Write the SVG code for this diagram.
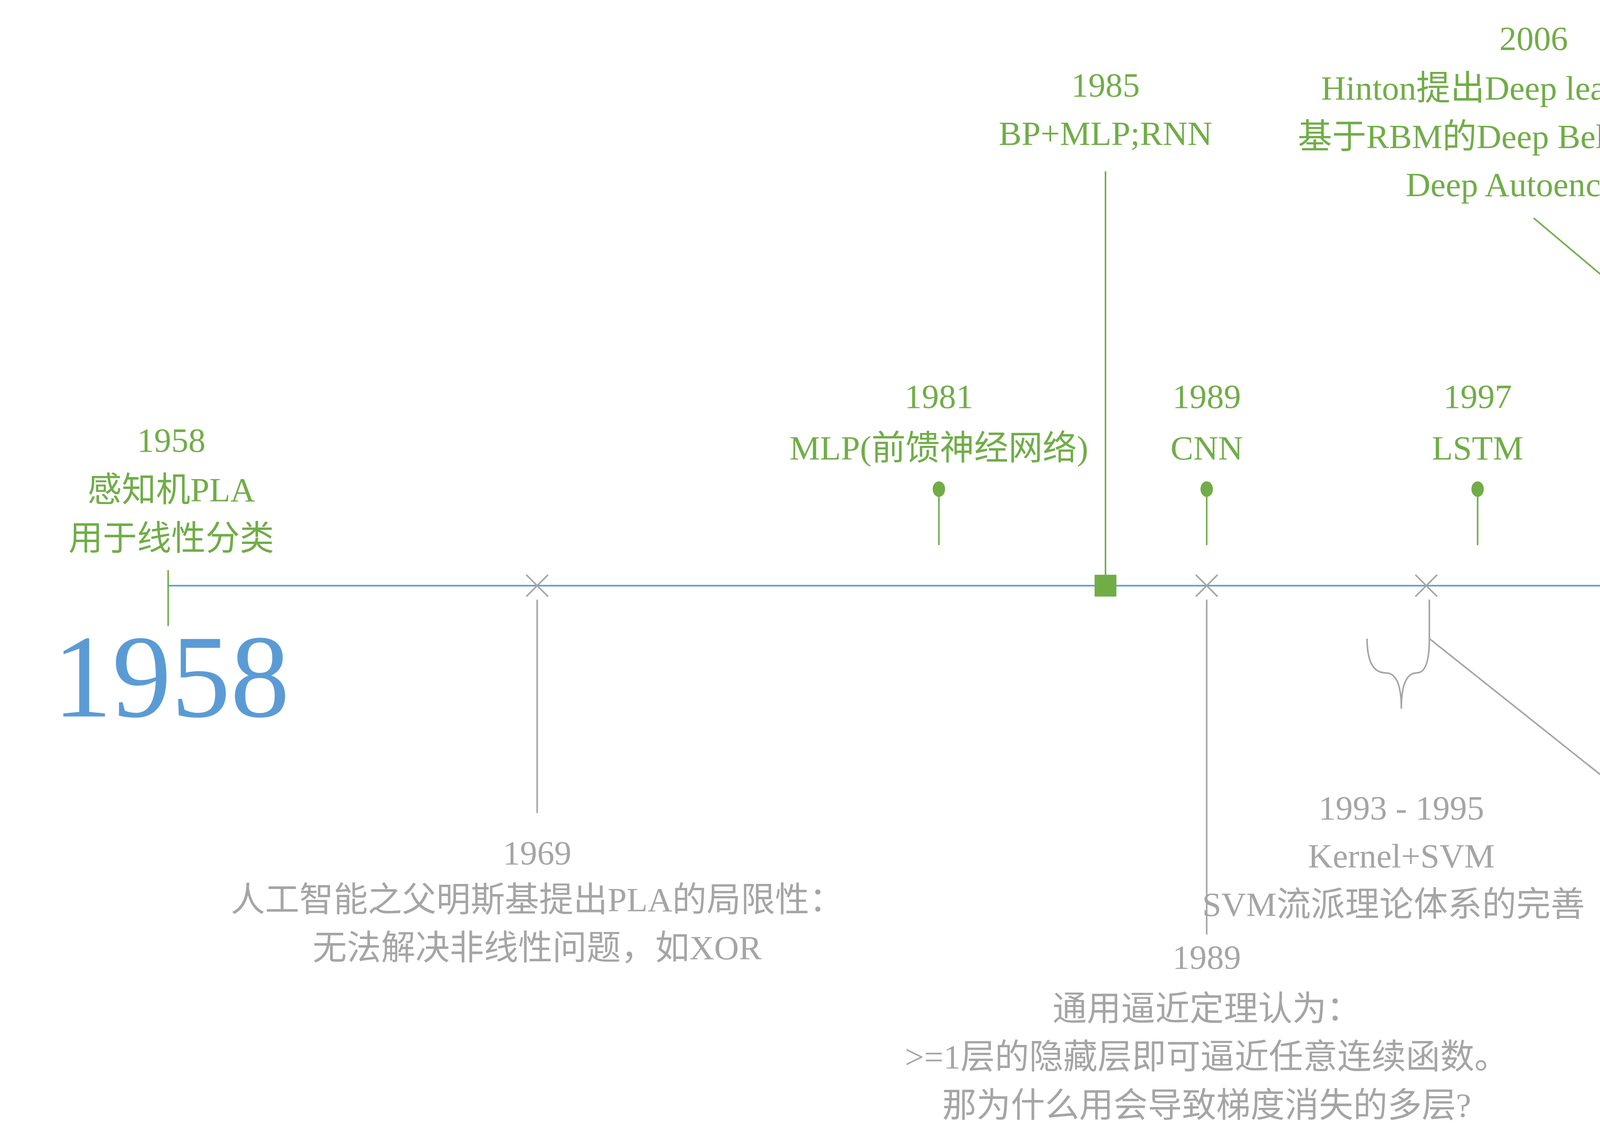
<svg xmlns="http://www.w3.org/2000/svg" width="6250" height="2925" viewBox="0 0 6250 2925">
<style>
text{font-family:"Liberation Serif","Noto Sans CJK SC",serif;text-anchor:middle;font-size:22px}
text.big{font-size:76px}
.g{fill:#70AD47}.b{fill:#5B9BD5}.y{fill:#A5A5A5}
.bold{font-weight:bold}
.lg{stroke:#70AD47;stroke-width:1;fill:none}
.lb{stroke:#5B9BD5;stroke-width:1;fill:none}
.ly{stroke:#A5A5A5;stroke-width:1;fill:none}
</style>
<rect width="6250" height="2925" fill="#fff"/>
<g transform="scale(3.986)">
<g id="connectors">
<line class="lb" x1="108" y1="376" x2="1460" y2="376" stroke-width="1.2"/>
<line class="lb" x1="1460" y1="366" x2="1460" y2="386"/>
<line class="lg" x1="108" y1="366" x2="108" y2="402"/>
<line class="ly" x1="345" y1="385" x2="345" y2="522"/>
<line class="lg" x1="603" y1="316" x2="603" y2="350"/>
<line class="lg" x1="710" y1="110" x2="710" y2="370"/>
<line class="lg" x1="775" y1="316" x2="775" y2="350"/>
<line class="ly" x1="775" y1="385" x2="775" y2="600"/>
<path class="ly" d="M878,410 Q878,432 890,432 Q900,432 900,455 Q900,432 910,432 Q918,432 918,410"/>
<line class="lg" x1="949" y1="316" x2="949" y2="350"/>
<polyline class="ly" points="918,385 918,410 1157,600"/>
<polyline class="lg" points="1155,370 1155,283 985,140"/>
<line class="lb" x1="1208" y1="316" x2="1208" y2="350"/>
<line class="lb" x1="1266" y1="208" x2="1266" y2="350"/>
<line class="lb" x1="1280" y1="82" x2="1280" y2="350"/>
<line class="lb" x1="1378" y1="316" x2="1378" y2="350"/>
<line class="lb" x1="1295" y1="350" x2="1295" y2="412"/>
<line class="lb" x1="1315" y1="350" x2="1315" y2="495"/>
<line class="lb" x1="1417" y1="350" x2="1417" y2="525"/>
</g>
<g id="n1958"><text class="g" x="110" y="290">1958</text><text class="g" x="110" y="322">感知机PLA</text><text class="g" x="110" y="353">用于线性分类</text>
<text class="b big" x="110" y="460">1958</text></g>
<g id="n2020"><text class="b big" x="1460" y="475">2020</text></g>
<g id="n1969"><path class="ly" d="M338,369 L352,383 M352,369 L338,383" stroke-width="1.5"/>
<text class="y" x="345" y="555">1969</text><text class="y" x="345" y="585">人工智能之父明斯基提出PLA的局限性：</text><text class="y" x="345" y="616">无法解决非线性问题，如XOR</text></g>
<g id="n1981"><ellipse class="g" cx="603" cy="314" rx="4" ry="5"/><text class="g" x="603" y="262">1981</text><text class="g" x="603" y="295">MLP(前馈神经网络)</text></g>
<g id="n1985"><rect class="g" x="703" y="369" width="14" height="14"/><text class="g" x="710" y="62">1985</text><text class="g" x="710" y="93">BP+MLP;RNN</text></g>
<g id="n1989"><ellipse class="g" cx="775" cy="314" rx="4" ry="5"/><text class="g" x="775" y="262">1989</text><text class="g" x="775" y="295">CNN</text>
<path class="ly" d="M768,369 L782,383 M782,369 L768,383" stroke-width="1.5"/>
<text class="y" x="775" y="622">1989</text><text class="y" x="775" y="655">通用逼近定理认为：</text><text class="y" x="775" y="686">&gt;=1层的隐藏层即可逼近任意连续函数。</text><text class="y" x="775" y="717">那为什么用会导致梯度消失的多层?</text></g>
<g id="n1993"><text class="y" x="900" y="526">1993 - 1995</text><text class="y" x="900" y="557">Kernel+SVM</text><text class="y" x="895" y="588">SVM流派理论体系的完善</text></g>
<g id="n1997"><path class="ly" d="M909,369 L923,383 M923,369 L909,383" stroke-width="1.5"/>
<ellipse class="g" cx="949" cy="314" rx="4" ry="5"/><text class="g" x="949" y="262">1997</text><text class="g" x="949" y="295">LSTM</text></g>
<g id="n1995"><text class="y" x="1175" y="660">1995</text><text class="y" x="1175" y="692">集成学习Adaboost, RF</text></g>
<g id="n2006"><rect class="g" x="1148" y="369" width="14" height="14"/><text class="g" x="985" y="32">2006</text><text class="g" x="985" y="64">Hinton提出Deep learning概念</text><text class="g" x="985" y="95">基于RBM的Deep Belief Network</text><text class="g" x="985" y="126">Deep Autoencoder</text></g>
<g id="n2009"><ellipse class="b" cx="1208" cy="314" rx="4" ry="5"/><text class="b" x="1208" y="262">2009</text><text class="b" x="1208" y="295">GPU的发展</text></g>
<g id="n2011"><ellipse class="b" cx="1266" cy="206" rx="4" ry="5"/><text class="b" x="1266" y="153">2011</text><text class="b" x="1266" y="185">引入DL到语音识别</text></g>
<g id="n2012"><ellipse class="b" cx="1280" cy="80" rx="4" ry="5"/><text class="b" x="1280" y="28">2012</text><text class="b" x="1280" y="60">图像识别ImageNet比赛</text></g>
<g id="n2016"><ellipse class="b" cx="1378" cy="314" rx="4" ry="5"/><text class="b" x="1378" y="262">2016</text><text class="b" x="1378" y="295">围棋AlphaGo</text></g>
<g id="n2013"><text class="b bold" x="1295" y="446">2013</text><text class="b bold" x="1295" y="477">VAE</text></g>
<g id="n2014"><text class="b bold" x="1315" y="526">2014</text><text class="b bold" x="1315" y="557">GAN</text></g>
<g id="n2018"><text class="b bold" x="1417" y="556">2018</text><text class="b bold" x="1417" y="587">GNN</text></g>
</g>
</svg>
